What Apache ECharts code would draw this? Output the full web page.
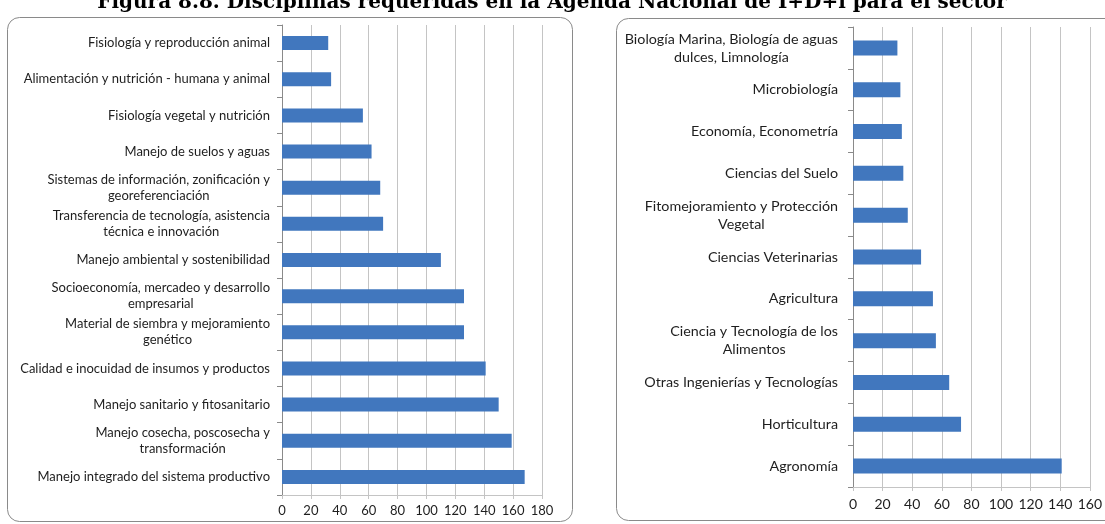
<!DOCTYPE html>
<html>
<head>
<meta charset="utf-8">
<script src="https://cdn.jsdelivr.net/npm/echarts@6/dist/echarts.min.js"></script>
<style>
  html, body { margin: 0; padding: 0; background: #ffffff; }
  #chart { width: 1105px; height: 524px; }
</style>
</head>
<body>
<div id="chart"></div>
<script>
const titleText = 'Figura 8.8. Disciplinas requeridas en la Agenda Nacional de I+D+i para el sector';

const leftCategories = [
  'Fisiología y reproducción animal',
  'Alimentación y nutrición - humana y animal',
  'Fisiología vegetal y nutrición',
  'Manejo de suelos y aguas',
  'Sistemas de información, zonificación y\ngeoreferenciación',
  'Transferencia de tecnología, asistencia\ntécnica e innovación',
  'Manejo ambiental y sostenibilidad',
  'Socioeconomía, mercadeo y desarrollo\nempresarial',
  'Material de siembra y mejoramiento\ngenético',
  'Calidad e inocuidad de insumos y productos',
  'Manejo sanitario y fitosanitario',
  'Manejo cosecha, poscosecha y\ntransformación',
  'Manejo integrado del sistema productivo'
];
const leftValues = [32, 34, 56, 62, 68, 70, 110, 126, 126, 141, 150, 159, 168];

const rightCategories = [
  'Biología Marina, Biología de aguas\ndulces, Limnología',
  'Microbiología',
  'Economía, Econometría',
  'Ciencias del Suelo',
  'Fitomejoramiento y Protección\nVegetal',
  'Ciencias Veterinarias',
  'Agricultura',
  'Ciencia y Tecnología de los\nAlimentos',
  'Otras Ingenierías y Tecnologías',
  'Horticultura',
  'Agronomía'
];
const rightValues = [30, 32, 33, 34, 37, 46, 54, 56, 65, 73, 141];

const leftTicks = { min: 0, max: 180, interval: 20 };
const rightTicks = { min: 0, max: 160, interval: 20 };

const labelFont = 'Lato';
const barColor = '#4177be';
const gridColor = '#c4c4c4';
const axisColor = '#8a8a8a';

function catLabelFormatter(v) {
  return v.split('\n').map(function (s) { return '{c|' + s + '}'; }).join('\n');
}

function catAxis(gridIndex, cats, size, lh, margin) {
  return {
    type: 'category', gridIndex: gridIndex, data: cats, inverse: true,
    axisLine: { show: true, lineStyle: { color: axisColor, width: 1 } },
    axisTick: { show: true, length: 5, lineStyle: { color: axisColor } },
    axisLabel: {
      margin: margin, color: '#1e1e1e', fontFamily: labelFont, fontSize: size,
      formatter: catLabelFormatter,
      rich: { c: { align: 'center', fontFamily: labelFont, fontSize: size, color: '#1e1e1e', lineHeight: lh } }
    }
  };
}

function valAxis(gridIndex, t, size, margin) {
  return {
    type: 'value', gridIndex: gridIndex, min: t.min, max: t.max, interval: t.interval,
    axisLine: { show: true, lineStyle: { color: gridColor, width: 1 } },
    axisTick: { show: true, length: 4, lineStyle: { color: gridColor } },
    splitLine: { show: true, lineStyle: { color: gridColor, width: 1 } },
    axisLabel: { margin: margin, color: '#1e1e1e', fontFamily: labelFont, fontSize: size }
  };
}

const chart = echarts.init(document.getElementById('chart'), null, { renderer: 'canvas' });

chart.setOption({
  backgroundColor: '#ffffff',
  animation: false,
  graphic: [
    { type: 'rect', shape: { x: 7.5, y: 17.5, width: 565, height: 504, r: 12 },
      style: { fill: 'none', stroke: '#8a8a8a', lineWidth: 1 }, z: -10 },
    { type: 'rect', shape: { x: 616.5, y: 18.5, width: 520, height: 502, r: 12 },
      style: { fill: 'none', stroke: '#8a8a8a', lineWidth: 1 }, z: -10 },
    { type: 'text', x: 552, y: 3, z: 10,
      style: { text: titleText, fill: '#000', font: 'bold 20px "DejaVu Serif"',
               textAlign: 'center', textVerticalAlign: 'middle' } }
  ],
  grid: [
    { left: 282, top: 25, width: 260, height: 470, containLabel: false },
    { left: 853, top: 27, width: 240, height: 460, containLabel: false }
  ],
  xAxis: [valAxis(0, leftTicks, 13, 9), valAxis(1, rightTicks, 14, 10)],
  yAxis: [catAxis(0, leftCategories, 13, 16, 12), catAxis(1, rightCategories, 14.3, 18, 15)],
  series: [
    { type: 'bar', xAxisIndex: 0, yAxisIndex: 0, data: leftValues, barWidth: 14,
      itemStyle: { color: barColor } },
    { type: 'bar', xAxisIndex: 1, yAxisIndex: 1, data: rightValues, barWidth: 15,
      itemStyle: { color: barColor } }
  ]
});
</script>
</body>
</html>
